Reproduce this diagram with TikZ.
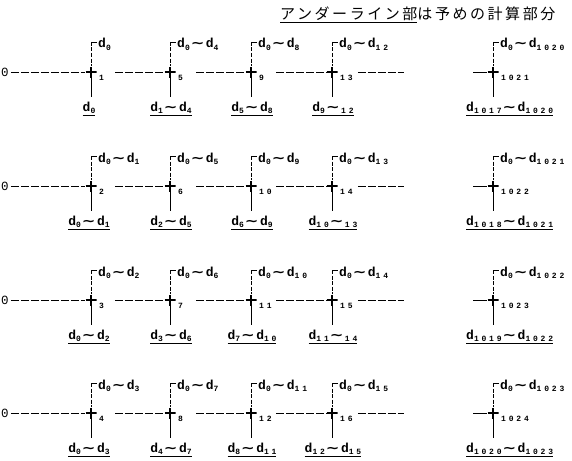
\documentclass[tikz,border=0pt]{standalone}
\usepackage{fontspec}
\setmainfont{Liberation Mono}
\newfontfamily\lblfont{Liberation Mono}
\newfontfamily\subfnt{Liberation Mono}[LetterSpace=35]
\newfontfamily\tildefnt{DejaVu Sans}
\newfontfamily\jpfont{Noto Sans CJK JP}[LetterSpace=17]
\newcommand\sbs[1]{\raisebox{-0.35ex}{\subfnt\bfseries\fontsize{8}{9}\selectfont #1}}
\newcommand\tl{\kern1pt{\tildefnt\bfseries\fontsize{12.5}{12}\selectfont\scalebox{1.3}[1]{∼}}\kern1.5pt}
\newcommand\dd[1]{d\sbs{#1}}
\tikzset{
  lbl/.style={font=\lblfont\bfseries\fontsize{13}{14}\selectfont, inner sep=0pt},
  subl/.style={inner sep=0pt, anchor=base west},
  crossmark/.style={minimum size=11pt, inner sep=0pt, path picture={
      \draw[line width=1.8pt] (path picture bounding box.north) -- (path picture bounding box.south);
      \draw[line width=1.8pt] (path picture bounding box.west) -- (path picture bounding box.east);}},
  hline/.style={line width=0.8pt, dash pattern=on 8pt off 2pt},
  vdash/.style={line width=0.8pt, dash pattern=on 4pt off 1.5pt},
  vsol/.style={line width=0.9pt},
  zerol/.style={font=\lblfont\fontsize{12.5}{14}\selectfont, inner sep=0pt, anchor=west},
}
\begin{document}
\begin{tikzpicture}[x=1pt,y=-1pt]
\useasboundingbox (0,0) rectangle (572,460);
\node[inner sep=0pt, anchor=base west, font=\jpfont\fontsize{15}{16}\selectfont] (title) at (280,20)
  {\underline{アンダーライン部}は予めの計算部分};
\foreach \rr/\y in {1/72,2/186,3/300,4/413}{
  \node[zerol] (z\rr) at (1,\y) {0};
  \foreach \cc/\x in {0/91,1/170,2/251,3/332}{
    \pgfmathtruncatemacro\sn{4*\cc+\rr}
    \pgfmathtruncatemacro\nhi{4*\cc+\rr-1}
    \pgfmathtruncatemacro\nlo{4*\cc+\rr-4}
    \node[crossmark] (p\rr\cc) at (\x,\y) {};
    \node[lbl,subl] (s\rr\cc) at (\x+8,\y+6) {\sbs{\sn}};
    \coordinate (t\rr\cc) at (\x,\y-30);
    \coordinate (b\rr\cc) at (\x,\y+25);
    \draw[vdash] (t\rr\cc) -- (p\rr\cc);
    \draw[vsol] (p\rr\cc) -- (b\rr\cc);
    \draw[vsol] (t\rr\cc) -- ++(6,0) coordinate (k\rr\cc);
    \node[lbl, anchor=base west] (u\rr\cc) at (\x+7,\y-24)
      {\ifnum\nhi=0 \dd{0}\else\dd{0}\tl\dd{\nhi}\fi};
    \ifnum\cc=0
      \node[lbl, anchor=base] (l\rr\cc) at (\x-2,\y+39)
        {\underline{\ifnum\rr=1 \dd{0}\else\dd{0}\tl\dd{\nhi}\fi}};
    \else\ifnum\cc=3
      \node[lbl, anchor=base] (l\rr\cc) at (\x+1,\y+39)
        {\underline{\ifnum\rr=4 \dd{\nlo}\tl\dd{\nhi}\else\dd{\nlo}\tl\sbs{\nhi}\fi}};
    \else
      \node[lbl, anchor=base] (l\rr\cc) at (\x+1,\y+39)
        {\underline{\dd{\nlo}\tl\dd{\nhi}}};
    \fi\fi
  }
  \coordinate (h\rr1) at (115,\y);
  \coordinate (h\rr2) at (196,\y);
  \coordinate (h\rr3) at (276,\y);
  \coordinate (e\rr) at (404,\y);
  \draw[hline] (z\rr.east) ++(2,0) -- (p\rr0.west);
  \draw[hline] (h\rr1) -- (p\rr1.west);
  \draw[hline] (h\rr2) -- (p\rr2.west);
  \draw[hline] (h\rr3) -- (p\rr3.west);
  \draw[hline] ([xshift=5pt]s\rr3.east |- e\rr) -- (e\rr);
  % right column
  \pgfmathtruncatemacro\rs{1020+\rr}
  \pgfmathtruncatemacro\rhi{1019+\rr}
  \pgfmathtruncatemacro\rlo{1016+\rr}
  \node[crossmark] (q\rr) at (493,\y) {};
  \node[lbl,subl] (qs\rr) at (501,\y+6) {\sbs{\rs}};
  \coordinate (qt\rr) at (493,\y-30);
  \coordinate (qb\rr) at (493,\y+25);
  \coordinate (qh\rr) at (473,\y);
  \draw[vdash] (qt\rr) -- (q\rr);
  \draw[vsol] (q\rr) -- (qb\rr);
  \draw[vsol] (qt\rr) -- ++(6,0);
  \draw[vsol] (qh\rr) -- (q\rr.west);
  \node[lbl, anchor=base west] (qu\rr) at (500,\y-24) {\dd{0}\tl\dd{\rhi}};
  \node[lbl, anchor=base west] (ql\rr) at (466,\y+39) {\underline{\dd{\rlo}\tl\dd{\rhi}}};
}
\end{tikzpicture}
\end{document}
